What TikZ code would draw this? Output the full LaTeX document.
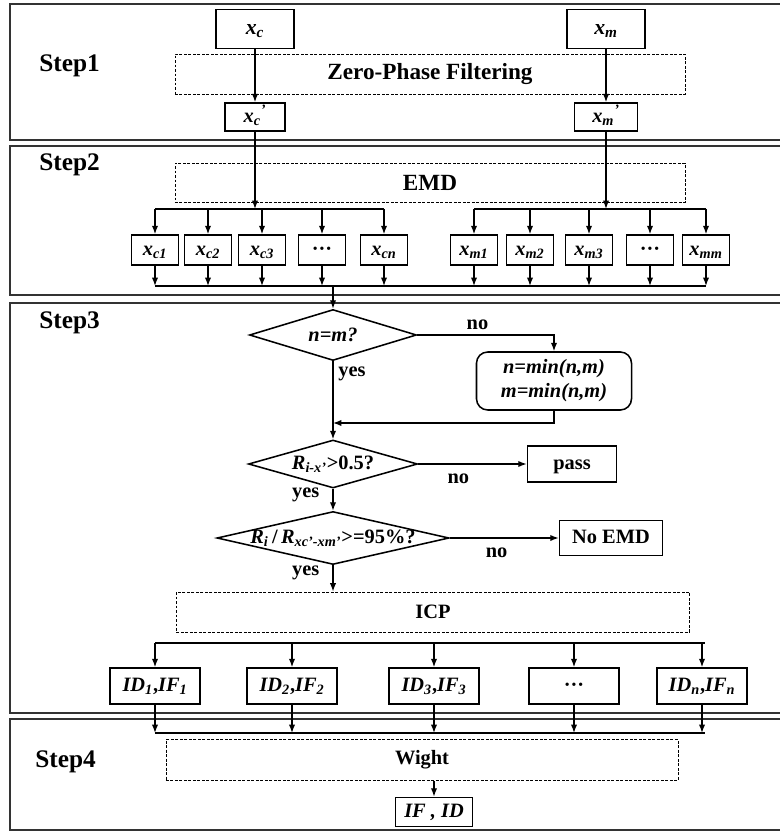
\documentclass[tikz,border=0pt]{standalone}
\usepackage{fontspec}
\setmainfont{Liberation Serif}
\usetikzlibrary{calc, positioning, arrows.meta, shapes.geometric}

% italic symbol with subscript, and with subscript and prime
\newcommand{\sbs}[2]{\textit{#1\textsubscript{#2}}}
\newcommand{\sbp}[2]{\textit{#1\textsubscript{#2}\textsuperscript{'}}}

\tikzset{
  panel/.style={draw=black!80, line width=1.4pt},
  steplabel/.style={anchor=west, font=\fontsize{18}{21}\selectfont\bfseries},
  lbl/.style={font=\fontsize{14.5}{17}\selectfont\bfseries},
  box/.style={draw, line width=1.1pt, inner sep=0pt, text height=10.5pt, text depth=3pt, lbl},
  dashbox/.style={draw, line width=0.6pt, dash pattern=on 2pt off 1.2pt, inner sep=0pt, lbl},
  decision/.style={diamond, draw, line width=1.1pt, inner sep=0pt},
}

\begin{document}
\begin{tikzpicture}[x=0.025cm, y=-0.025cm, line width=0.9pt, >={Latex[length=6pt,width=4.5pt]}]
\useasboundingbox (0,0) rectangle (779,832);

% Panels
\draw[panel] (10,4) rectangle (790,140);
\draw[panel] (10,146) rectangle (790,295);
\draw[panel] (10,303) rectangle (790,713);
\draw[panel] (10,719) rectangle (790,830);

\node[steplabel] (s1) at (34,66) {Step1};
\node[steplabel] (s2) at (34,165) {Step2};
\node[steplabel] (s3) at (34,323) {Step3};
\node[steplabel] (s4) at (30,762) {Step4};

% Step1: filtering
\node[box, font=\fontsize{15.5}{18}\selectfont\bfseries, minimum width=1.95cm, minimum height=0.975cm] (xc) at (255,29) {\sbs{x}{c}};
\node[box, font=\fontsize{15.5}{18}\selectfont\bfseries, minimum width=1.95cm, minimum height=0.975cm] (xm) at (606,29) {\sbs{x}{m}};
\node[dashbox, minimum width=12.75cm, minimum height=1cm, font=\fontsize{16.5}{19}\selectfont\bfseries] (filt) at (430,74) {Zero-Phase Filtering};
\node[box, minimum width=1.5cm, minimum height=0.7cm] (xcp) at (255,117) {\sbp{x}{c}};
\node[box, minimum width=1.575cm, minimum height=0.7cm] (xmp) at (606,117) {\sbp{x}{m}};
\draw[->] (xc) -- (xcp);
\draw[->] (xm) -- (xmp);

% Step2: EMD
\node[dashbox, minimum width=12.75cm, minimum height=0.975cm, font=\fontsize{16.5}{19}\selectfont\bfseries] (emd) at (430,183) {EMD};
\coordinate (cbusL) at (155,209);
\coordinate (cbusR) at (384,209);
\coordinate (mbusL) at (474,209);
\coordinate (mbusR) at (706,209);
\coordinate (busL) at (155,286);
\coordinate (busR) at (706,286);
\draw (cbusL) -- (cbusR);
\draw (mbusL) -- (mbusR);
\draw (busL) -- (busR);
\draw[->] (xcp) -- (xcp |- cbusL);
\draw[->] (xmp) -- (xmp |- mbusL);
\foreach \n/\x/\t in {c1/155/{\sbs{x}{c1}}, c2/208/{\sbs{x}{c2}}, c3/262/{\sbs{x}{c3}}, c4/322/{···}, cn/384/{\sbs{x}{cn}},
                      m1/474/{\sbs{x}{m1}}, m2/530/{\sbs{x}{m2}}, m3/589/{\sbs{x}{m3}}, m4/650/{···}, mm/706/{\sbs{x}{mm}}} {
  \node[box, minimum width=1.175cm, minimum height=0.75cm] (\n) at (\x,250) {\t};
  \draw[->] (\n |- cbusL) -- (\n);
  \draw[->] (\n) -- (\n |- busL);
}

% Step3: selection
\node[decision, minimum width=4.175cm, minimum height=1.275cm, label={[lbl]center:\textit{n=m?}}] (d1) at (333,335) {};
\draw[->] (d1 |- busL) -- (d1);
\node[box, text height=, text depth=, inner sep=0pt, rounded corners=8pt, minimum width=3.875cm, minimum height=1.45cm, align=center] (minb) at (554,381) {\textit{n=min(n,m)}\\\textit{m=min(n,m)}};
\draw[->] (d1.east) -| node[lbl, pos=0.22, above] {no} (minb.north);
\coordinate (join) at (333,423);
\draw[->] (minb.south) |- (join);

\node[decision, minimum width=4.225cm, minimum height=1.2cm, label={[lbl]center:\sbs{R}{i-x'}>0.5?}] (d2) at (333,464) {};
\draw[->] (d1) -- node[lbl, pos=0.16, right] {yes} (d2);
\node[box, minimum width=2.225cm, minimum height=0.9cm] (pass) at (572,464) {pass};
\draw[->] (d2) -- node[lbl, pos=0.37, below=3pt] {no} (pass);

\node[decision, minimum width=5.8cm, minimum height=1.325cm, label={[lbl]center:\sbs{R}{i}\,/\,\sbs{R}{xc'-xm'}>=95\%?}] (d3) at (333,538) {};
\draw[->] (d2) -- node[lbl, pos=0.3, left=6pt] {yes} (d3);
\node[box, minimum width=2.575cm, minimum height=0.875cm] (noemd) at (611,538) {No EMD};
\draw[->] (d3) -- node[lbl, pos=0.43, below=3pt] {no} (noemd);

\node[dashbox, minimum width=12.825cm, minimum height=1cm] (icp) at (433,612) {ICP};
\draw[->] (d3.south) -- node[lbl, pos=0.28, left=6pt] {yes} (d3.south |- icp.north);

\coordinate (ibusL) at (155,643);
\coordinate (ibusR) at (705,643);
\coordinate (wbusL) at (155,733);
\coordinate (wbusR) at (705,733);
\draw (ibusL) -- (ibusR);
\draw (wbusL) -- (wbusR);
\foreach \n/\x/\t in {id1/155/{\sbs{ID}{1},\sbs{IF}{1}}, id2/292/{\sbs{ID}{2},\sbs{IF}{2}}, id3/434/{\sbs{ID}{3},\sbs{IF}{3}},
                      id4/574/{···}, idn/702/{\sbs{ID}{n},\sbs{IF}{n}}} {
  \node[box, minimum width=2.25cm, minimum height=0.9cm] (\n) at (\x,686) {\t};
  \draw[->] (\n |- ibusL) -- (\n);
  \draw[->] (\n) -- (\n |- wbusL);
}

% Step4: weighting
\node[dashbox, minimum width=12.8cm, minimum height=1.025cm] (wight) at (422,760) {Wight};
\node[box, minimum width=1.925cm, minimum height=0.725cm] (ifid) at (434,812) {\textit{IF , ID}};
\draw[->] (wight.south -| ifid) -- (ifid);
\end{tikzpicture}
\end{document}
